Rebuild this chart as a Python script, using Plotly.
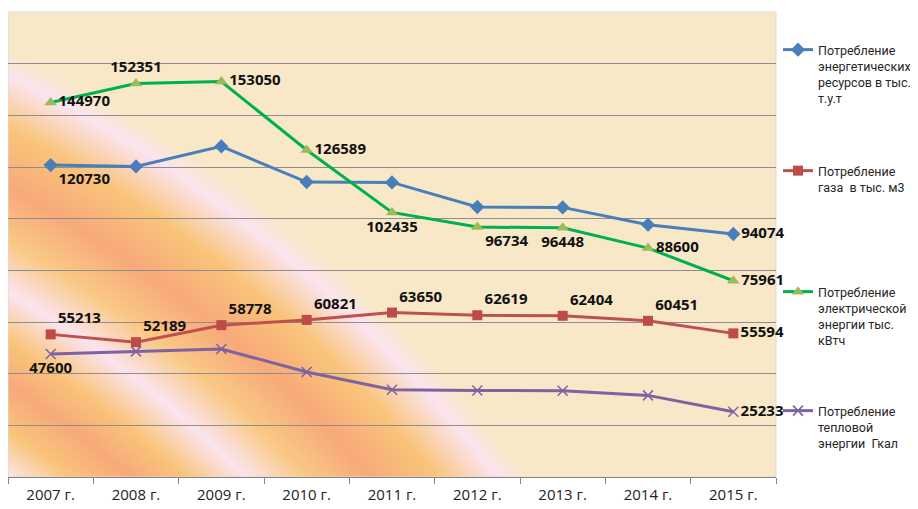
import base64
import plotly.graph_objects as go

# ---------------- data ----------------
categories = ["2007 г.", "2008 г.", "2009 г.", "2010 г.", "2011 г.",
              "2012 г.", "2013 г.", "2014 г.", "2015 г."]

energy_resources = [120730, 120230, 127980, 114190, 114040, 104520, 104360, 97670, 94074]
gas = [55213, 52189, 58778, 60821, 63650, 62619, 62404, 60451, 55594]
electricity = [144970, 152351, 153050, 126589, 102435, 96734, 96448, 88600, 75961]
heat = [47600, 48620, 49550, 40650, 33790, 33520, 33410, 31590, 25233]

energy_label_shown = [True, False, False, False, False, False, False, False, True]
gas_label_shown = [True] * 9
electricity_label_shown = [True] * 9
heat_label_shown = [True, False, False, False, False, False, False, False, True]

energy_label_pos = ["bottom right"] + ["middle right"] * 8
gas_label_pos = ["top right"] * 8 + ["middle right"]
electricity_label_pos = ["middle right", "top center", "middle right", "middle right",
                         "bottom center", "bottom right", "bottom center",
                         "middle right", "middle right"]
heat_label_pos = ["bottom center"] + ["middle right"] * 8

series_names = [
    "Потребление<br>энергетических<br>ресурсов в тыс.<br>т.у.т",
    "Потребление<br>газа\u00a0 в тыс. м3",
    "Потребление<br>электрической<br>энергии тыс.<br>кВтч",
    "Потребление<br>тепловой<br>энергии\u00a0 Гкал",
]


def labels(values, shown):
    return [str(v) if s else "" for v, s in zip(values, shown)]


# ---------------- background gradient (decoration) ----------------
W, H = 768, 465
stops = [(1000, "#FBDCCB"), (1040, "#FBE3DE"), (1075, "#F9C47A"), (1113, "#F8A97A"),
         (1150, "#F9C47A"), (1192, "#FBE4EF"), (1235, "#F9C985"), (1283, "#F8A97A"),
         (1335, "#F9C47A"), (1382, "#FBE4EF"), (1405, "#F8E8C8"), (1420, "#F8E8C8")]
R = 1420.0
stop_xml = "".join(
    f'<stop offset="{r / R:.4f}" stop-color="{c}"/>' for r, c in stops)
svg = (
    f'<svg xmlns="http://www.w3.org/2000/svg" width="{W}" height="{H}" '
    f'viewBox="0 0 {W} {H}" preserveAspectRatio="none">'
    f'<defs><radialGradient id="g" gradientUnits="userSpaceOnUse" cx="-608" cy="1305" '
    f'r="{R}" fx="-608" fy="1305">{stop_xml}</radialGradient></defs>'
    f'<rect x="0" y="0" width="{W}" height="{H}" fill="url(#g)"/></svg>'
)
bg_src = "data:image/svg+xml;base64," + base64.b64encode(svg.encode()).decode()

# ---------------- figure ----------------
# the page body has an 8px default margin, so the figure is 910x501
FIG_W, FIG_H = 910, 501

label_font = dict(family="Open Sans", size=15, color="#111111", weight="bold")

fig = go.Figure()
fig.add_trace(go.Scatter(
    x=categories, y=energy_resources, name=series_names[0], legend="legend",
    mode="lines+markers+text", text=labels(energy_resources, energy_label_shown),
    textposition=energy_label_pos, textfont=label_font, cliponaxis=False,
    line=dict(color="#4A7EBB", width=3),
    marker=dict(symbol="diamond", size=11, color="#4A7EBB")))
fig.add_trace(go.Scatter(
    x=categories, y=gas, name=series_names[1], legend="legend2",
    mode="lines+markers+text", text=labels(gas, gas_label_shown),
    textposition=gas_label_pos, textfont=label_font, cliponaxis=False,
    line=dict(color="#C0504D", width=3),
    marker=dict(symbol="square", size=10, color="#BE4B48")))
fig.add_trace(go.Scatter(
    x=categories, y=electricity, name=series_names[2], legend="legend3",
    mode="lines+markers+text", text=labels(electricity, electricity_label_shown),
    textposition=electricity_label_pos, textfont=label_font, cliponaxis=False,
    line=dict(color="#00B050", width=3),
    marker=dict(symbol="triangle-up", size=11, color="#9BBB59")))
fig.add_trace(go.Scatter(
    x=categories, y=heat, name=series_names[3], legend="legend4",
    mode="lines+markers+text", text=labels(heat, heat_label_shown),
    textposition=heat_label_pos, textfont=label_font, cliponaxis=False,
    line=dict(color="#7E62A1", width=3),
    marker=dict(symbol="x-thin", size=10, color="#7E62A1",
                line=dict(color="#7E62A1", width=1.5))))

legend_common = dict(xref="container", yref="container", x=770 / FIG_W,
                     xanchor="left", yanchor="top", valign="top",
                     bgcolor="rgba(0,0,0,0)", borderwidth=0,
                     font=dict(family="Roboto", size=12.5, color="#262626"))
legend_tops = [27, 148, 269, 388]

fig.update_layout(
    width=FIG_W, height=FIG_H,
    margin=dict(l=0, r=142, t=4, b=32, autoexpand=False),
    paper_bgcolor="white",
    plot_bgcolor="#F8E8C8",
    showlegend=True,
    legend=dict(legend_common, y=1 - legend_tops[0] / FIG_H),
    legend2=dict(legend_common, y=1 - legend_tops[1] / FIG_H),
    legend3=dict(legend_common, y=1 - legend_tops[2] / FIG_H),
    legend4=dict(legend_common, y=1 - legend_tops[3] / FIG_H),
    images=[dict(source=bg_src, xref="paper", yref="paper", x=0, y=1,
                 sizex=1, sizey=1, xanchor="left", yanchor="top",
                 sizing="stretch", layer="below")],
    shapes=[dict(type="rect", xref="paper", yref="paper", x0=0, y0=0, x1=1, y1=1,
                 line=dict(color="#D9D9D9", width=1), layer="below")],
    xaxis=dict(type="category", range=[-0.5, 8.5], tickson="boundaries",
               ticks="outside", ticklen=6, tickcolor="#868686",
               showline=True, linecolor="#868686", linewidth=1, showgrid=False,
               tickfont=dict(family="Open Sans", size=15, color="#222222"),
               ticklabelstandoff=4, fixedrange=True),
    yaxis=dict(range=[0, 180000], dtick=20000, showticklabels=False,
               showgrid=True, gridcolor="#8E8E8E", gridwidth=1,
               showline=True, linecolor="#BCCCE0", linewidth=1,
               zeroline=False, ticks="", fixedrange=True),
)

fig.write_html("out.html")
